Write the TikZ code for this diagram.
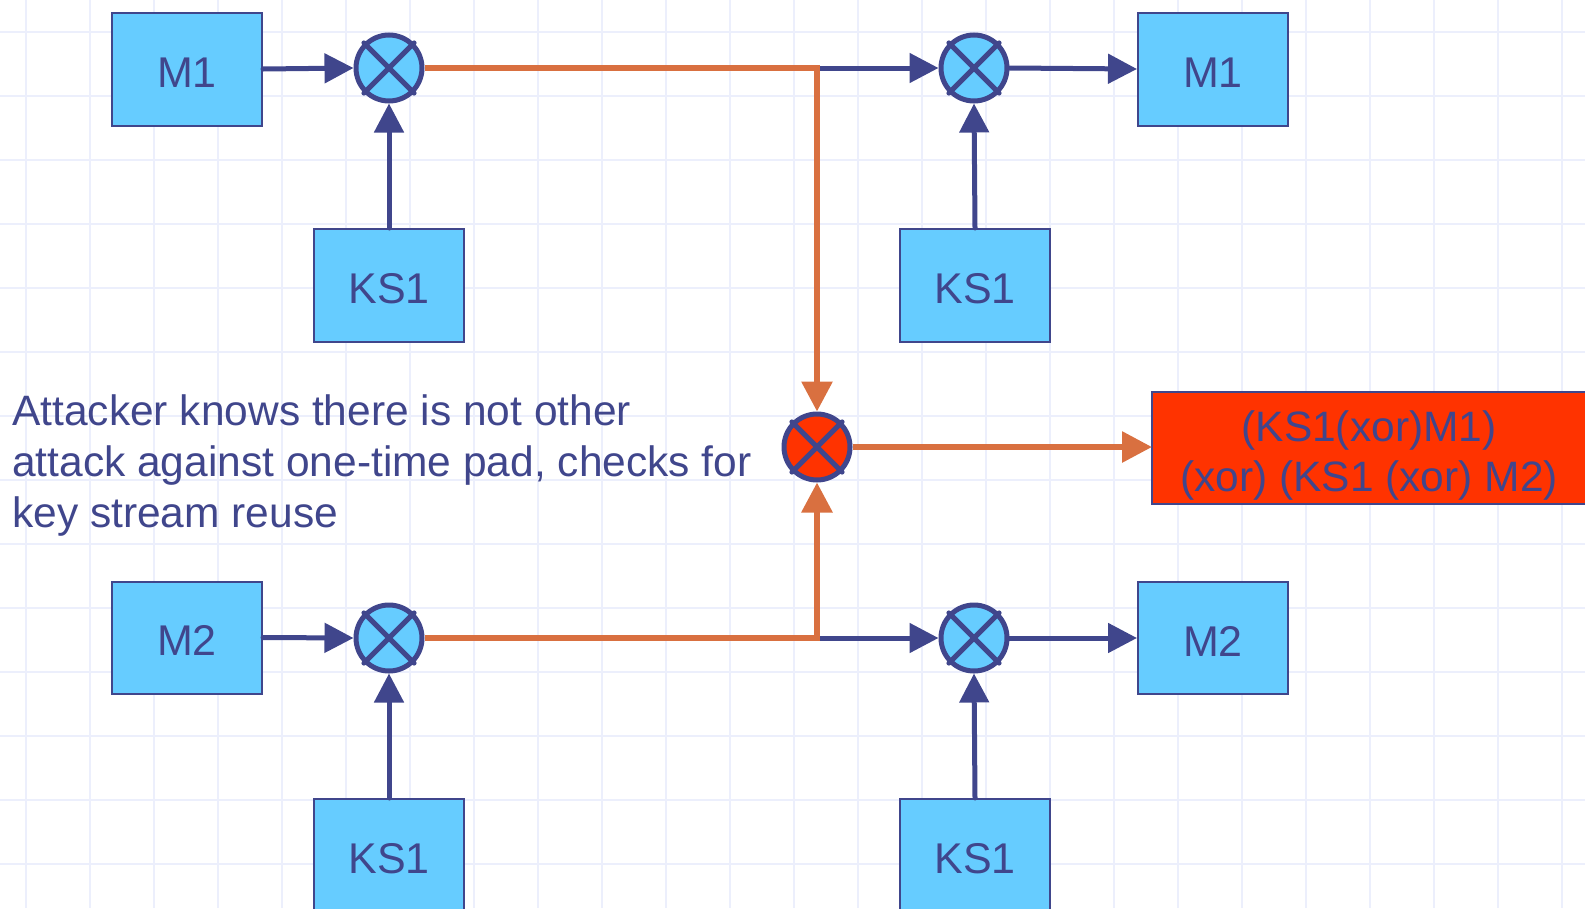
\documentclass[tikz,border=0pt]{standalone}
\usepackage{fontspec}
\setmainfont{Liberation Sans}
\usetikzlibrary{arrows.meta}

\definecolor{boxfill}{HTML}{66CCFF}
\definecolor{ink}{HTML}{40468C}
\definecolor{wire}{HTML}{D97040}
\definecolor{hot}{HTML}{FF3300}
\definecolor{gridc}{HTML}{ECEFFC}

\tikzset{
  gridline/.style={draw=gridc, line width=2pt},
  blockbox/.style={rectangle, draw=ink, fill=boxfill, line width=2pt,
    minimum width=150pt, minimum height=113pt, inner sep=0pt, outer sep=1pt,
    text=ink, text height=36pt, text depth=0pt, font=\fontsize{43}{50}\selectfont},
  mixer/.style={circle, draw=ink, fill=boxfill, line width=5pt,
    minimum size=66pt, inner sep=0pt},
  hotmixer/.style={mixer, fill=hot},
  crossline/.style={draw=ink, line width=5pt, line cap=round},
  bluearrow/.style={draw=ink, line width=5pt, line cap=round,
    -{Triangle[length=29pt, width=29pt]}},
  orangearrow/.style={draw=wire, line width=6pt,
    -{Triangle[length=30pt, width=30pt]}},
  resultbox/.style={rectangle, draw=ink, fill=hot, line width=2pt,
    minimum width=470pt, minimum height=112pt, inner sep=0pt, outer sep=0pt},
  resulttext/.style={text=ink, align=center, inner sep=0pt,
    font=\fontsize{42.5}{50}\selectfont},
  notetext/.style={text=ink, align=left, inner sep=0pt,
    font=\fontsize{42.5}{51}\selectfont},
}

\begin{document}
\begin{tikzpicture}[x=1pt, y=-1pt]
\useasboundingbox (0,0) rectangle (1585,908);
\clip (0,0) rectangle (1585,908);

% background grid
\foreach \x in {26,90,...,1585} \draw[gridline] (\x,0) -- (\x,908);
\foreach \y in {32,96,...,908} \draw[gridline] (0,\y) -- (1585,\y);

% message and key-stream blocks
\node[blockbox] (m1in)  at (187,69)    {M1};
\node[blockbox] (ks1a)  at (389,285.5) {KS1};
\node[blockbox] (m1out) at (1213,69)   {M1};
\node[blockbox] (ks1b)  at (975,285.5) {KS1};
\node[blockbox, minimum height=112pt] (m2in)  at (187,637.5) {M2};
\node[blockbox, minimum height=112pt] (m2out) at (1213,638)  {M2};
\node[blockbox] (ks1c)  at (389,855.5) {KS1};
\node[blockbox] (ks1d)  at (975,855.5) {KS1};

% xor mixers
\node[mixer] (x1) at (389,68)  {};
\node[mixer] (x2) at (974,68)  {};
\node[mixer] (x3) at (389,638) {};
\node[mixer] (x4) at (974,638) {};
\node[hotmixer] (xr) at (817,447) {};

% result block
\node[resultbox, anchor=west] (res) at (1152,448) {};
\node[resulttext] (restxt) at (1369,455) {(KS1(xor)M1)\\(xor) (KS1 (xor) M2)};

% explanatory note (anchored on the baseline of its last line)
\node[notetext, anchor=base west] (note) at (12,527)
  {Attacker knows there is not other\\attack against one-time pad, checks for\\key stream reuse};

% branch points of the ciphertext lines
\coordinate (j1) at (817,68);
\coordinate (j2) at (817,638);

% encryption inputs
\draw[bluearrow] (m1in.east) -- (x1.west);
\draw[bluearrow] (ks1a.north) -- (x1.south);
\draw[bluearrow] (m2in.east) -- (x3.west);
\draw[bluearrow] (ks1c.north) -- (x3.south);

% decryption side
\draw[bluearrow, line cap=butt] (j1) -- (x2.west);
\draw[bluearrow] (ks1b.north) -- (x2.south);
\draw[bluearrow] (x2.east) -- (m1out.west);
\draw[bluearrow, line cap=butt] (j2) -- (x4.west);
\draw[bluearrow] (ks1d.north) -- (x4.south);
\draw[bluearrow] (x4.east) -- (m2out.west);

% intercepted ciphertexts combined by the attacker
\draw[orangearrow] (x1.east) -- (j1) -- (xr.north);
\draw[orangearrow] (x3.east) -- (j2) -- (xr.south);
\draw[orangearrow] (xr.east) -- (xr.east -| res.west);

% crosses inside the mixers
\foreach \n in {x1,x2,x3,x4,xr}
  \draw[crossline] (\n.north east) -- (\n.south west)
                   (\n.north west) -- (\n.south east);
\end{tikzpicture}
\end{document}
